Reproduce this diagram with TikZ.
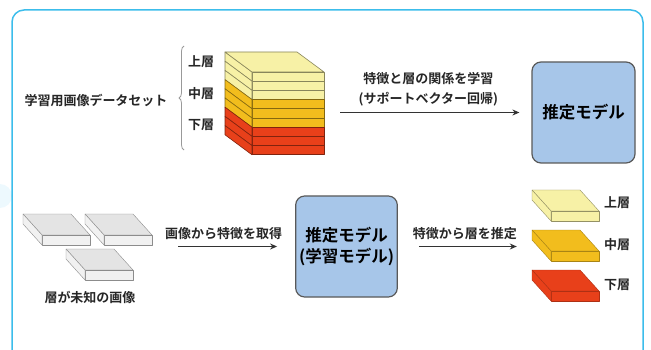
\documentclass[tikz,border=0pt]{standalone}
\usepackage{fontspec}
\setmainfont{Noto Sans CJK JP}[BoldFont={Noto Sans CJK JP Bold}]
\usetikzlibrary{arrows.meta,decorations.pathreplacing}

\definecolor{frameblue}{HTML}{3CBDEB}
\definecolor{modelblue}{HTML}{A7C6E9}
\definecolor{layerup}{HTML}{F7F1A6}
\definecolor{layermid}{HTML}{F2BD1D}
\definecolor{layerlow}{HTML}{E8401A}
\definecolor{tilegray}{HTML}{E4E4E4}
\definecolor{tilefront}{HTML}{F1F1F1}

\tikzset{
    pics/slab/.style n args={3}{code={
        \filldraw[fill=#1, draw=#3] (0,0) -- (48,0) -- (67,21) -- (19,21) -- cycle;
        \filldraw[fill=#2, draw=#3] (19,21) -- (67,21) -- (67,31) -- (19,31) -- cycle;
        \filldraw[fill=#2, draw=#3] (0,0) -- (19,21) -- (19,31) -- (0,10) -- cycle;
    }}
}

\begin{document}
\begin{tikzpicture}[
        x=1pt, y=-1pt,
        line join=round,
        lbl/.style={font=\fontsize{13}{20}\selectfont\bfseries, text=black!85, inner sep=1pt},
        model/.style={draw=black!65, fill=modelblue, line width=1.2pt, rounded corners=9pt,
            font=\fontsize{16.5}{21}\selectfont\bfseries, align=center},
        group/.style={inner sep=0pt},
        flow/.style={draw=black!80, line width=1.4pt, -{Stealth[length=7pt, width=6pt]}},
        layer/.style={line width=0.6pt},
    ]
    \useasboundingbox (0,0) rectangle (651,350);
    \fill[cyan!7] (0,196) circle (12);
    \draw[frameblue, line width=1.5pt, rounded corners=12pt] (12,365) -- (12,10) -- (643,10) -- (643,365);

    % training data: stacked layers
    \node[group, minimum width=100pt, minimum height=103pt] (stack) at (275,103.5) {};
    \begin{scope}[shift={(225,52)}]
        \foreach \k/\c in {0/layerup,1/layerup,2/layerup,3/layermid,4/layermid,5/layermid,6/layerlow,7/layerlow,8/layerlow} {
            \filldraw[layer, fill=\c, draw=\c!55!black] (27,20+\k*9.2) rectangle (99,20+\k*9.2+9.2);
            \filldraw[layer, fill=\c, draw=\c!55!black] (0,\k*9.2) -- (27,20+\k*9.2) -- (27,29.2+\k*9.2) -- (0,9.2+\k*9.2) -- cycle;
        }
        \filldraw[layer, fill=layerup, draw=layerup!55!black] (0,0) -- (72,0) -- (99,20) -- (27,20) -- cycle;
    \end{scope}
    \draw[black!40, line width=0.8pt, decorate, decoration={brace, amplitude=5pt}] (184,150) -- (184,46);
    \node[lbl] (dataset) at (96,100) {学習用画像データセット};
    \node[lbl] (up) at (201,62) {上層};
    \node[lbl] (mid) at (201,94) {中層};
    \node[lbl] (low) at (201,125) {下層};

    \node[model, minimum width=103pt, minimum height=101pt] (est) at (583.5,112.5) {推定モデル};
    \draw[flow, shorten <=15pt, shorten >=12pt] (stack.east |- est.west) -- (est.west)
        node[midway, above=5pt, lbl, align=center] (learn) {特徴と層の関係を学習\\(サポートベクター回帰)};

    % images with unknown layer
    \pic at (23,214) {slab={tilegray}{tilefront}{black!45}};
    \pic at (85,214) {slab={tilegray}{tilefront}{black!45}};
    \pic at (66,249) {slab={tilegray}{tilefront}{black!45}};
    \node[group, minimum width=129pt, minimum height=66pt] (unknown) at (87.5,247) {};
    \node[lbl] (unknownlbl) at (90,297) {層が未知の画像};

    \node[model, minimum width=101pt, minimum height=101pt] (trained) at (346.5,246.5) {推定モデル\\(学習モデル)};
    \draw[flow, shorten <=26pt, shorten >=18pt] (unknown.east |- trained.west) -- (trained.west)
        node[midway, above=5pt, lbl] (feat) {画像から特徴を取得};

    % estimated layers
    \pic at (532,190) {slab={layerup}{layerup}{layerup!60!black}};
    \pic at (532,230) {slab={layermid}{layermid}{layermid!70!black}};
    \pic at (532,270) {slab={layerlow}{layerlow}{layerlow!75!black}};
    \node[group, minimum width=68pt, minimum height=111pt] (result) at (566,245.5) {};
    \node[lbl] (rup) at (617,203) {上層};
    \node[lbl] (rmid) at (617,245) {中層};
    \node[lbl] (rlow) at (617,285) {下層};
    \draw[flow, shorten <=21pt, shorten >=15pt] (trained.east) -- (trained.east -| result.west)
        node[midway, above=5pt, lbl] (guess) {特徴から層を推定};
\end{tikzpicture}
\end{document}
